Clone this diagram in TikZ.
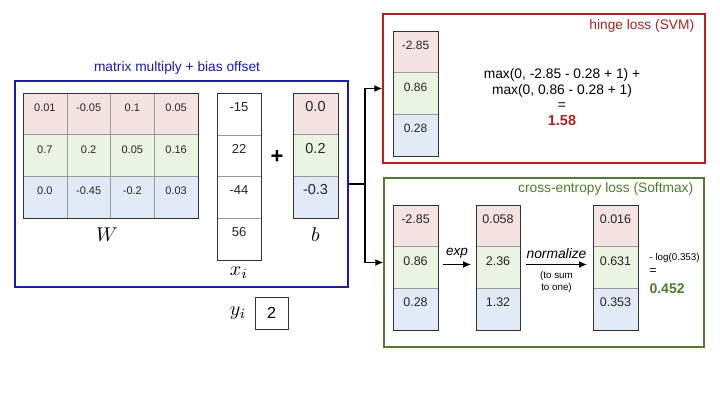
\documentclass[tikz,border=0pt]{standalone}
\usepackage{fontspec}
\setmainfont{Liberation Sans}
\usetikzlibrary{arrows.meta}
\definecolor{rowR}{RGB}{245,226,226}
\definecolor{rowG}{RGB}{233,245,226}
\definecolor{rowB}{RGB}{226,234,247}
\definecolor{bluebox}{RGB}{28,28,165}
\definecolor{redbox}{RGB}{178,32,32}
\definecolor{greenbox}{RGB}{82,122,52}
\definecolor{redtxt}{RGB}{170,35,35}
\definecolor{greentxt}{RGB}{82,122,45}
\tikzset{
  cell/.style={draw=black!40, inner sep=0pt, outer sep=0pt, text=black!85,
    minimum width=44pt, minimum height=41.7pt, text height=8pt, text depth=13pt},
  wcell/.style={cell, minimum width=43.75pt, font=\fontsize{11}{13}\selectfont},
  xcell/.style={cell, fill=white, minimum height=41.75pt, font=\fontsize{13}{15}\selectfont},
  bcell/.style={cell, minimum width=45pt, font=\fontsize{14.5}{16}\selectfont},
  scell/.style={cell, minimum width=45pt, font=\fontsize{12.5}{14}\selectfont},
  frame/.style={draw=black!80, line width=0.8pt},
  panel/.style={inner sep=0pt, line width=1.4pt},
  mathlbl/.style={scale=2},
  conn/.style={line width=1.3pt, draw=black},
  arr/.style={conn, -{Latex[length=8pt,width=7pt]}},
  ttl/.style={font=\fontsize{13.75}{16}\selectfont}
}
\begin{document}
\begin{tikzpicture}[x=1pt,y=-1pt]
\fill[white] (0,0) rectangle (720,405);
\useasboundingbox (0,0) rectangle (720,405);

% ---------- matrix multiply panel ----------
\node[panel, draw=bluebox, line width=1.7pt, minimum width=333pt, minimum height=206pt] (mm) at (181.5,184) {};
\node[ttl, text=bluebox] (mmt) at (177,68) {matrix multiply + bias offset};

\foreach \r/\fc/\vals in {1/rowR/{0.01,-0.05,0.1,0.05},2/rowG/{0.7,0.2,0.05,0.16},3/rowB/{0.0,-0.45,-0.2,0.03}}{
  \foreach \v [count=\c] in \vals {
    \node[wcell, fill=\fc] (w\r\c) at ({23+43.75*(\c-0.5)},{93+41.67*(\r-0.5)}) {\v};
  }
}
\draw[frame] (w11.north west) rectangle (w34.south east);
\node[mathlbl] (wl) at (107,235) {$W$};

\foreach \v [count=\r] in {-15,22,-44,56}{
  \node[xcell] (x\r) at (239,{93+41.75*(\r-0.5)}) {\v};
}
\draw[frame] (x1.north west) rectangle (x4.south east);
\node[mathlbl] (xl) at (239,273) {$x_i$};

\node[font=\bfseries\fontsize{22}{22}\selectfont] (plus) at (277,157) {+};

\foreach \v/\fc [count=\r] in {0.0/rowR,0.2/rowG,-0.3/rowB}{
  \node[bcell, fill=\fc] (b\r) at (315.5,{93+41.67*(\r-0.5)}) {\v};
}
\draw[frame] (b1.north west) rectangle (b3.south east);
\node[mathlbl] (bl) at (315.5,235) {$b$};

% y_i
\node[mathlbl] (yl) at (238,313) {$y_i$};
\node[draw=black!80, line width=0.8pt, minimum width=33pt, minimum height=32pt, inner sep=0pt,
      font=\fontsize{16}{18}\selectfont] (yv) at (271.5,313) {2};

% ---------- hinge loss panel ----------
\node[panel, draw=redbox, minimum width=322pt, minimum height=149pt] (red) at (544,88.5) {};
\node[ttl, text=redtxt, anchor=east] (redt) at ([xshift=-8pt,yshift=-13pt]red.north east) {hinge loss (SVM)};
\foreach \v/\fc [count=\r] in {-2.85/rowR,0.86/rowG,0.28/rowB}{
  \node[scell, fill=\fc, font=\fontsize{12}{14}\selectfont] (h\r) at (415.5,{31+41.67*(\r-0.5)}) {\v};
}
\draw[frame] (h1.north west) rectangle (h3.south east);
\node[align=center, font=\fontsize{13.8}{15.7}\selectfont] (hf) at (562,97)
  {max(0, -2.85 - 0.28 + 1) +\\ max(0, 0.86 - 0.28 + 1)\\ =\\ \textcolor{redtxt}{\bfseries\fontsize{14.5}{15.7}\selectfont 1.58}};

% ---------- softmax panel ----------
\node[panel, draw=greenbox, minimum width=320pt, minimum height=169pt] (green) at (544,262.5) {};
\node[ttl, text=greentxt, anchor=east] (greent) at ([xshift=-8pt,yshift=-12pt]green.north east) {cross-entropy loss (Softmax)};
\foreach \v/\fc [count=\r] in {-2.85/rowR,0.86/rowG,0.28/rowB}{
  \node[scell, fill=\fc] (sa\r) at (415.5,{205+41.67*(\r-0.5)}) {\v};
}
\foreach \v/\fc [count=\r] in {0.058/rowR,2.36/rowG,1.32/rowB}{
  \node[scell, fill=\fc, minimum width=44pt] (sb\r) at (498,{205+41.67*(\r-0.5)}) {\v};
}
\foreach \v/\fc [count=\r] in {0.016/rowR,0.631/rowG,0.353/rowB}{
  \node[scell, fill=\fc] (sc\r) at (615.5,{205+41.67*(\r-0.5)}) {\v};
}
\draw[frame] (sa1.north west) rectangle (sa3.south east);
\draw[frame] (sb1.north west) rectangle (sb3.south east);
\draw[frame] (sc1.north west) rectangle (sc3.south east);

\draw[arr] ([xshift=5pt,yshift=3pt]sa2.east) -- node[above=2pt, font=\itshape\fontsize{13.5}{15}\selectfont] (expl) {exp} ([xshift=-5pt,yshift=3pt]sb2.west);
\draw[arr] ([xshift=6pt,yshift=3pt]sb2.east) -- node[above=2pt, font=\itshape\fontsize{13.8}{15}\selectfont] (norml) {normalize}
  node[below=3pt, align=center, font=\fontsize{9.8}{12}\selectfont] (tsum) {(to sum\\to one)} ([xshift=-6pt,yshift=3pt]sc2.west);

\node[anchor=west, font=\fontsize{9.8}{11}\selectfont] (lg) at (646,258) {- log(0.353)};
\node[anchor=west, font=\fontsize{12}{13}\selectfont] (eq) at (646,272) {=};
\node[anchor=west, text=greentxt, font=\bfseries\fontsize{14}{16}\selectfont] (res) at (646,289) {0.452};

% ---------- connectors ----------
\coordinate (j) at (365,184);
\draw[conn] (mm.east) -- (j);
\draw[arr] (j) |- (red.west);
\draw[arr] (j) |- (green.west);
\end{tikzpicture}
\end{document}
